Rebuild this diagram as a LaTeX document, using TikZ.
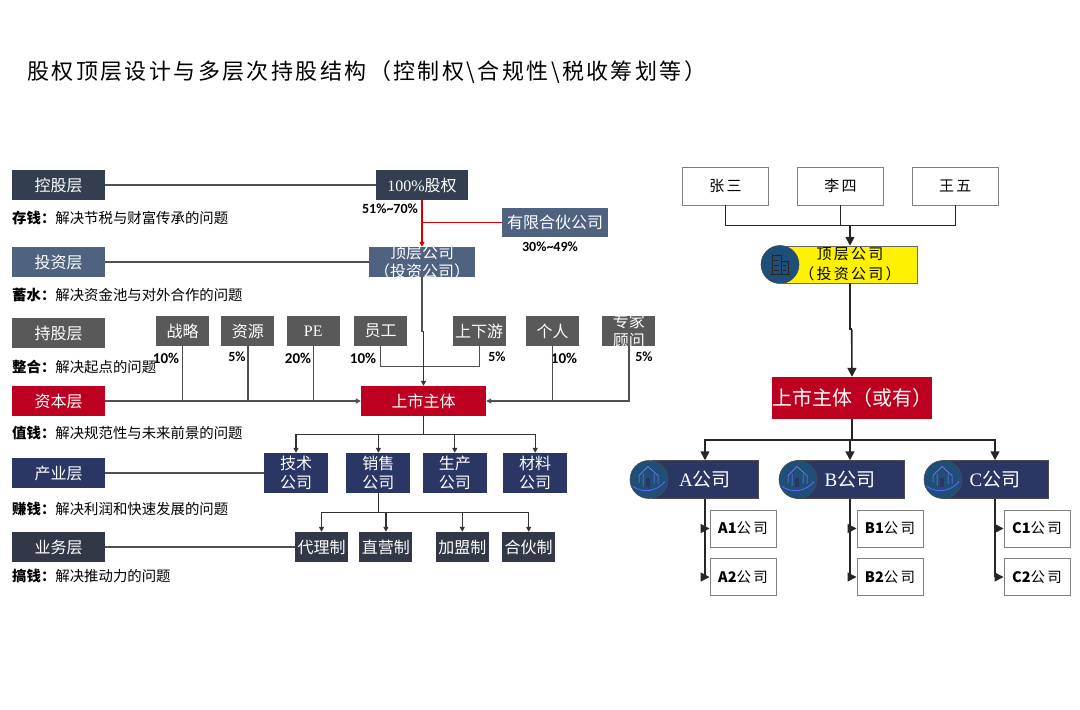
\documentclass[tikz,border=0pt]{standalone}
\usepackage{fontspec}
\usepackage{xcolor}
\usetikzlibrary{arrows.meta,positioning}
\setmainfont{Noto Sans CJK SC}
\newfontfamily\titlefont[LetterSpace=11]{Noto Sans CJK SC}
\newfontfamily\widefont[LetterSpace=15]{Noto Sans CJK SC}
\newfontfamily\pctfont{Carlito}
\newfontfamily\latinfont{Liberation Serif}
\definecolor{ctrlblue}{HTML}{333F50}
\definecolor{investblue}{HTML}{4F6280}
\definecolor{holdgray}{HTML}{595959}
\definecolor{listred}{HTML}{BE0020}
\definecolor{indblue}{HTML}{2A3663}
\definecolor{bizblue}{HTML}{333849}
\definecolor{iconblue}{HTML}{1F4E79}
\definecolor{linkgray}{HTML}{505050}

\begin{document}
\begin{tikzpicture}[x=1pt, y=-1pt,
    box/.style={rectangle, inner sep=0pt, text=white, align=center, minimum height=30pt,
                font=\fontsize{16}{19}\selectfont},
    layer/.style={box, minimum width=93pt},
    hold/.style={box, fill=holdgray, minimum width=53pt},
    comp/.style={box, fill=indblue, minimum width=64pt, minimum height=40pt},
    biz/.style={box, fill=bizblue, minimum width=53pt},
    tight/.style={text height=30pt, text depth=0pt},
    desc/.style={anchor=west, inner sep=0pt, font=\fontsize{14.4}{17}\selectfont},
    pct/.style={inner sep=0pt, font=\pctfont\bfseries\fontsize{15}{17}\selectfont},
    pctsm/.style={pct, font=\pctfont\bfseries\fontsize{14}{16}\selectfont},
    person/.style={rectangle, draw=gray, line width=0.9pt, minimum width=86pt, minimum height=38pt,
                inner sep=0pt, font=\widefont\fontsize{15}{18}\selectfont},
    subco/.style={rectangle, draw=gray, line width=0.9pt, minimum width=66pt, minimum height=37pt,
                inner sep=0pt, font=\widefont\fontsize{14.5}{18}\selectfont},
    bar/.style={rectangle, draw=black!70, line width=0.5pt, fill=indblue, inner sep=0pt, text=white,
                minimum height=38pt, font=\fontsize{19}{22}\selectfont},
    disc/.style={circle, draw=black!70, line width=0.6pt, fill=iconblue, minimum size=38pt, inner sep=0pt},
    conn/.style={linkgray, line width=1.2pt},
    arr/.style={-{Triangle[length=5pt, width=5pt]}, black!80, line width=1.2pt},
    redarr/.style={-{Triangle[length=5pt, width=5pt]}, red!85!black, line width=1.2pt},
    arrbig/.style={-{Triangle[length=9pt, width=9pt]}, black!85, line width=1.6pt},
    linebig/.style={black!85, line width=1.6pt},
    houseicon/.pic={
      \draw[blue!45!white, line width=0.5pt] (-10,3) -- (-10,-4) -- (-1,-13) -- (9,-4) -- (9,4)
        (-6,-6) -- (-6,6) (5,-6) -- (5,4);
      \fill[indblue] (-3,-2) rectangle (1,7);
      \draw[blue!60!white, line width=0.8pt] (-16,7) .. controls (-6,14) and (8,12) .. (16,2);
    }]
\useasboundingbox (0,0) rectangle (1080,710);

% title
\node[anchor=west, inner sep=0pt, font=\titlefont\fontsize{22}{26}\selectfont] (title) at (27,72)
  {股权顶层设计与多层次持股结构（控制权\textbackslash 合规性\textbackslash 税收筹划等）};

% left: layers
\node[layer, fill=ctrlblue] (ctrl) at (58.5,185) {控股层};
\node[layer, fill=investblue] (invest) at (58.5,262) {投资层};
\node[layer, fill=holdgray] (share) at (58.5,333) {持股层};
\node[layer, fill=listred] (capital) at (58.5,401) {资本层};
\node[layer, fill=indblue] (industry) at (58.5,473) {产业层};
\node[layer, fill=bizblue] (business) at (58.5,547) {业务层};

\node[desc] (d1) at (12,218) {\textbf{存钱：}解决节税与财富传承的问题};
\node[desc] (d2) at (12,295) {\textbf{蓄水：}解决资金池与对外合作的问题};
\node[desc] (d3) at (12,367) {\textbf{整合：}解决起点的问题};
\node[desc] (d4) at (12,433) {\textbf{值钱：}解决规范性与未来前景的问题};
\node[desc] (d5) at (12,509) {\textbf{赚钱：}解决利润和快速发展的问题};
\node[desc] (d6) at (12,576) {\textbf{搞钱：}解决推动力的问题};

% left: chart
\node[box, fill=ctrlblue, minimum width=92pt] (equity) at (422,185) {{\latinfont 100\%}股权};
\node[box, fill=investblue, minimum width=106pt, minimum height=29pt] (lp) at (555,222.5) {有限合伙公司};
\node[box, fill=investblue, minimum width=106pt, tight] (topco) at (422,262) {顶层公司\\（投资公司）};

\node[hold] (strat) at (182.5,331) {战略};
\node[hold, right=12pt of strat] (res) {资源};
\node[hold, right=12pt of res] (pe) {\latinfont PE};
\node[hold, right=14pt of pe] (staff) {员工};
\node[hold, right=45pt of staff] (chain) {上下游};
\node[hold, right=20pt of chain] (indiv) {个人};
\node[hold, right=23pt of indiv, tight] (expert) {专家\\顾问};

\node[box, fill=listred, minimum width=125pt] (list) at (423.5,401) {上市主体};

\node[comp] (tech) at (296,473) {技术\\公司};
\node[comp, right=18pt of tech] (sales) {销售\\公司};
\node[comp, right=12pt of sales] (prod) {生产\\公司};
\node[comp, right=16pt of prod] (mat) {材料\\公司};

\node[biz] (agent) at (321.5,547) {代理制};
\node[biz, right=11pt of agent] (direct) {直营制};
\node[biz, right=23pt of direct] (franch) {加盟制};
\node[biz, right=13pt of franch] (partner) {合伙制};

\node[pctsm] (p1) at (390,209) {51\%\textasciitilde 70\%};
\node[pctsm] (p2) at (550,247) {30\%\textasciitilde 49\%};
\node[pct] (p3) at (166,358) {10\%};
\node[pctsm] (p4) at (237,357) {5\%};
\node[pct] (p5) at (298,358) {20\%};
\node[pct] (p6) at (363,358) {10\%};
\node[pctsm] (p7) at (497,357) {5\%};
\node[pct] (p8) at (564,358) {10\%};
\node[pctsm] (p9) at (644,357) {5\%};

\draw[conn] (ctrl) -- (equity);
\draw[conn] (invest) -- (topco);
\draw[conn] (industry) -- (tech);
\draw[conn] (business) -- (agent);
\draw[arr, linkgray] (capital) -- (list);
\draw[redarr] (equity) -- (topco);
\draw[red!85!black, line width=1.2pt] (lp.west) -- (lp.west -| equity.south);
\draw[conn] (strat.south) -- (strat.south |- list.west);
\draw[conn] (res.south) -- (res.south |- list.west);
\draw[conn] (pe.south) -- (pe.south |- list.west);
\draw[conn] (staff.south) -- ++(0,20) -| (chain.south);
\draw[conn] (indiv.south) -- (indiv.south |- list.east);
\draw[arr, linkgray] (expert.south) |- (list.east);
\draw[conn] (topco.south) -- ++(0,54) -- ++(1.5,0) coordinate (jog);
\draw[arr] (jog) -- (list.north);
\draw[arr] (list.south) -- ++(0,18) -| (tech.north);
\draw[arr] (list.south) -- ++(0,18) -| (sales.north);
\draw[arr] (list.south) -- ++(0,18) -| (prod.north);
\draw[arr] (list.south) -- ++(0,18) -| (mat.north);
\draw[arr] (sales.south) -- ++(0,19) -| (agent.north);
\draw[arr] (sales.south) -- ++(0,19) -| (direct.north);
\draw[arr] (sales.south) -- ++(0,19) -| (franch.north);
\draw[arr] (sales.south) -- ++(0,19) -| (partner.north);

% right: chart
\node[person] (zhang) at (725.5,186) {张三};
\node[person, right=28pt of zhang] (li) {李四};
\node[person, right=28pt of li] (wang) {王五};

\node[rectangle, draw=black!60, line width=0.5pt, fill=yellow, inner sep=0pt, minimum width=134pt, minimum height=37pt,
      align=center, font=\widefont\fontsize{15}{20}\selectfont] (topyellow) at (850,264.5) {顶层公司\\（投资公司）};
\node[disc] (topicon) at (780,264.5) {};
\draw[black!85, line width=0.8pt] (770,274) -- (790,274) (772,274) -- (772,255) -- (781,255) -- (781,274)
  (781,261) -- (788,261) -- (788,274) (774,260) -- (779,260) (774,265) -- (779,265) (774,270) -- (779,270)
  (783,265) -- (786,265) (783,270) -- (786,270);

\node[rectangle, fill=listred, text=white, inner sep=0pt, minimum width=158pt, minimum height=42pt,
      font=\fontsize{20}{22}\selectfont] (listed) at (852,398) {上市主体（或有）};

\node[bar, minimum width=106pt] (coa) at (705,479.5) {{\latinfont A}公司};
\node[bar, minimum width=108pt] (cob) at (850,479.5) {{\latinfont B}公司};
\node[bar, minimum width=106pt] (coc) at (995,479.5) {{\latinfont C}公司};
\node[disc] (icona) at (649,479.5) {};
\node[disc] (iconb) at (798,479.5) {};
\node[disc] (iconc) at (943,479.5) {};
\pic at (icona) {houseicon};
\pic at (iconb) {houseicon};
\pic at (iconc) {houseicon};

\node[subco] (a1) at (743,528.5) {{\normalfont\bfseries A1}公司};
\node[subco] (a2) at (743,577) {{\normalfont\bfseries A2}公司};
\node[subco] (b1) at (890,528.5) {{\normalfont\bfseries B1}公司};
\node[subco] (b2) at (890,577) {{\normalfont\bfseries B2}公司};
\node[subco] (c1) at (1037,528.5) {{\normalfont\bfseries C1}公司};
\node[subco] (c2) at (1037,577) {{\normalfont\bfseries C2}公司};

\draw[linebig] (zhang.south) -- ++(0,20) -| (wang.south);
\draw[linebig] (li.south) -- (li.south |- 0,225);
\draw[arrbig] (topyellow.north |- 0,225) -- (topyellow.north);
\draw[linebig] (topyellow.south) -- ++(0,46) -- ++(1.7,0) coordinate (jogr);
\draw[arrbig] (jogr) -- (listed.north);
\draw[linebig] (listed.south) -- ++(0,21) coordinate (fork);
\draw[arrbig] (fork) -| (coa.north);
\draw[arrbig] (fork) -- (fork -| cob.north) -- (cob.north);
\draw[arrbig] (fork) -| (coc.north);
\draw[arrbig] (coa.south) |- (a1.west);
\draw[arrbig] (coa.south) |- (a2.west);
\draw[arrbig] (cob.south) |- (b1.west);
\draw[arrbig] (cob.south) |- (b2.west);
\draw[arrbig] (coc.south) |- (c1.west);
\draw[arrbig] (coc.south) |- (c2.west);
\end{tikzpicture}
\end{document}
